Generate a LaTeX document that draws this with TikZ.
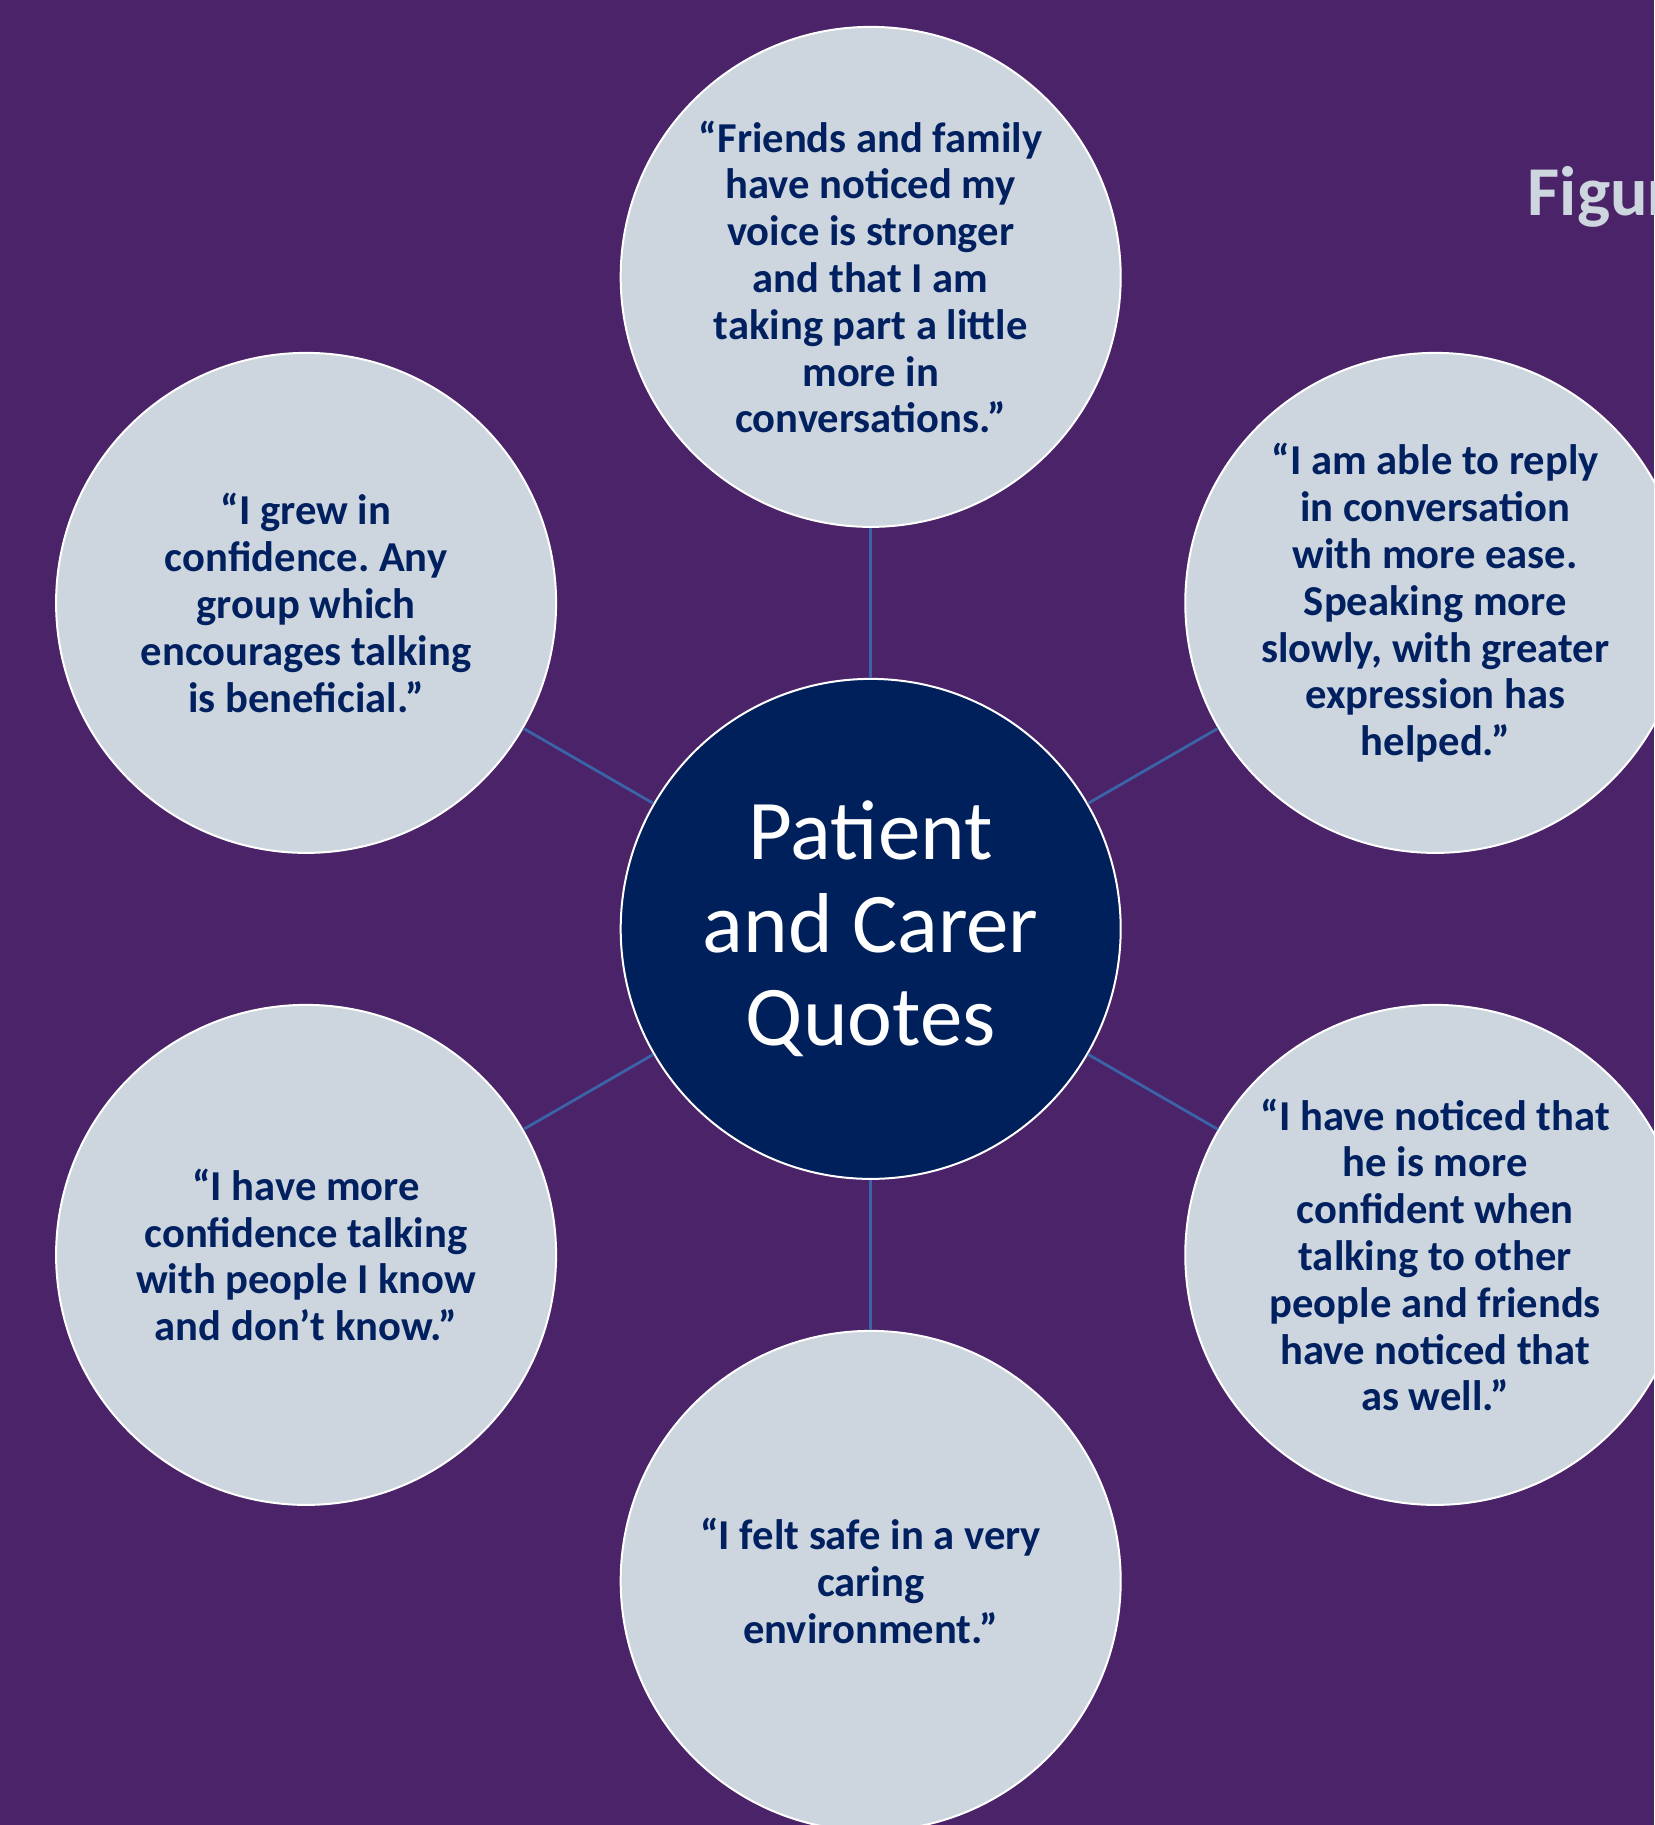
\documentclass[tikz,border=0pt]{standalone}
\usepackage{fontspec}
\setmainfont{Carlito}
\usetikzlibrary{positioning}
\frenchspacing

\definecolor{plum}{HTML}{4B2368}
\definecolor{navy}{HTML}{00205B}
\definecolor{mist}{HTML}{CDD5DE}
\definecolor{ink}{HTML}{002060}
\definecolor{spoke}{HTML}{3B64A8}

\begin{document}
\begin{tikzpicture}[
    on grid,
    bubble/.style = {circle, draw=white, line width=1pt, inner sep=0pt,
      minimum size=250pt, align=center},
    hubnode/.style = {bubble, fill=navy, text=white,
      font=\fontsize{42.5}{46.6}\selectfont},
    quote/.style = {bubble, fill=mist, text=ink,
      font=\bfseries\fontsize{21.3}{23.4}\selectfont},
    every edge/.style = {draw=spoke, line width=1.4pt}]
  % page and background
  \clip (-435.35pt,-448.05pt) rectangle (391.65pt,464.45pt);
  \fill[plum] (-435.35pt,-448.05pt) rectangle (391.65pt,464.45pt);

  \node (fig) [anchor=base west, text=mist, font=\bfseries\fontsize{35}{40}\selectfont]
    at (325pt,356.45pt) {Figure};

  \node (hub) [hubnode] {Patient\\and Carer\\Quotes};

  \node (top) [quote, above = 326pt of hub]
    {“Friends and family\\have noticed my\\voice is stronger\\and that I am\\taking part a little\\more in\\conversations.”};
  \node (ne) [quote, above right = 163pt and 282.3pt of hub]
    {“I am able to reply\\in conversation\\with more ease.\\Speaking more\\slowly, with greater\\expression has\\helped.”};
  \node (se) [quote, below right = 163pt and 282.3pt of hub]
    {“I have noticed that\\he is more\\confident when\\talking to other\\people and friends\\have noticed that\\as well.”};
  \node (bot) [quote, below = 326pt of hub]
    {“I felt safe in a very\\caring\\environment.”};
  \node (sw) [quote, below left = 163pt and 282.3pt of hub]
    {“I have more\\confidence talking\\with people I know\\and don’t know.”};
  \node (nw) [quote, above left = 163pt and 282.3pt of hub]
    {“I grew in\\confidence. Any\\group which\\encourages talking\\is beneficial.”};

  \draw (hub) edge (top) edge (ne) edge (se)
              edge (bot) edge (sw) edge (nw);
\end{tikzpicture}
\end{document}
